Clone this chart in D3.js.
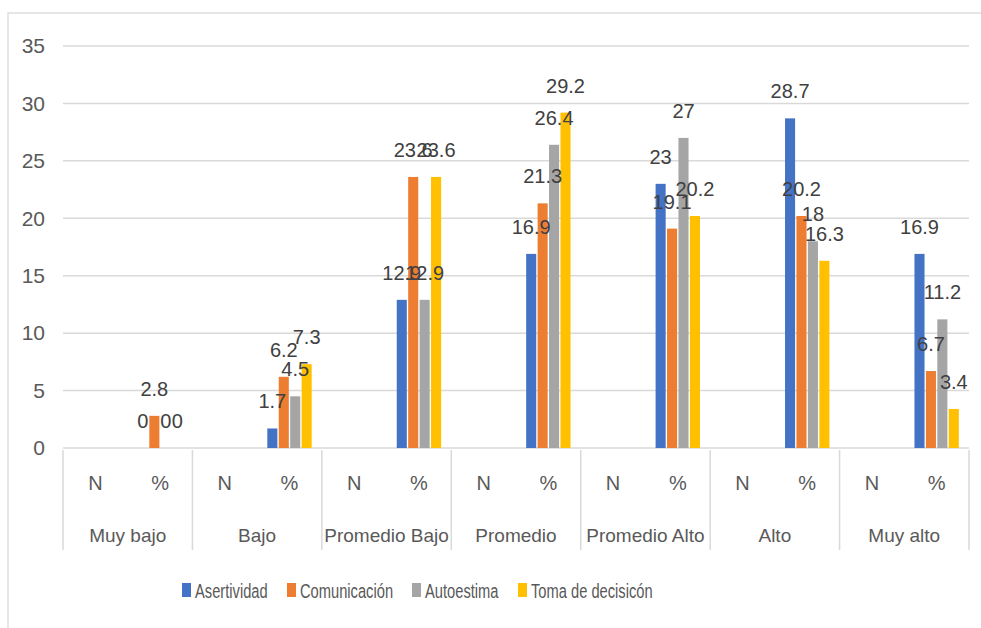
<!doctype html>
<html lang="es">
<head>
  <meta charset="utf-8">
  <title>Niveles por dimensión</title>
  <style>
    body { margin: 0; background: #fff; }
    text { font-family: "Liberation Sans", Arial, sans-serif; fill: #595959; }
  </style>
</head>
<body>
<svg id="mysvg"></svg>
<script src="https://d3js.org/d3.v7.min.js"></script>
<script>
var width = 981;
var height = 628;

// data (N columns are empty)
var groups = ["Muy bajo", "Bajo", "Promedio Bajo", "Promedio", "Promedio Alto", "Alto", "Muy alto"];
var subs = ["N", "%"];
var series = ["Asertividad", "Comunicación", "Autoestima", "Toma de decisicón"];
var colors = ["#4472C4", "#ED7D31", "#A5A5A5", "#FFC000"];
var asertividad  = [0, 1.7, 12.9, 16.9, 23, 28.7, 16.9];
var comunicacion = [2.8, 6.2, 23.6, 21.3, 19.1, 20.2, 6.7];
var autoestima   = [0, 4.5, 12.9, 26.4, 27, 18, 11.2];
var tomaDecision = [0, 7.3, 23.6, 29.2, 20.2, 16.3, 3.4];
var yTicks = [0, 5, 10, 15, 20, 25, 30, 35];

var values = [asertividad, comunicacion, autoestima, tomaDecision];

var svg = d3.select("#mysvg")
  .attr("width", width)
  .attr("height", height);

// chart frame (only top and left visible)
svg.append("rect")
  .attr("x", 8).attr("y", 13)
  .attr("width", 1000).attr("height", 700)
  .style("fill", "none")
  .style("stroke", "#D9D9D9")
  .style("stroke-width", 1.3);

var plotLeft = 63, plotRight = 969, plotTop = 46, base = 448;

var y = d3.scaleLinear().domain([0, 35]).range([base, plotTop]);
var xGroup = d3.scaleBand().domain(groups).range([plotLeft, plotRight]);
var xSub = d3.scaleBand().domain(subs).range([0, xGroup.bandwidth()]);
var xSer = d3.scaleBand().domain(series).range([0, xSub.bandwidth()])
  .paddingInner(0.12).paddingOuter(0.89);

// gridlines + y labels
svg.append("g").selectAll("line").data(yTicks).enter().append("line")
  .attr("x1", plotLeft).attr("x2", plotRight)
  .attr("y1", function(d) { return y(d); })
  .attr("y2", function(d) { return y(d); })
  .style("stroke", "#D9D9D9")
  .style("stroke-width", 1.5);

svg.append("g").selectAll("text").data(yTicks).enter().append("text")
  .attr("x", 45)
  .attr("y", function(d) { return y(d); })
  .attr("dy", "0.35em")
  .attr("text-anchor", "end")
  .style("font-size", "21px")
  .text(function(d) { return d; });

// category axis dividers
svg.append("g").selectAll("line").data(d3.range(groups.length + 1)).enter().append("line")
  .attr("x1", function(i) { return plotLeft + i * xGroup.step(); })
  .attr("x2", function(i) { return plotLeft + i * xGroup.step(); })
  .attr("y1", base + 2).attr("y2", 550)
  .style("stroke", "#D9D9D9")
  .style("stroke-width", 1.5);

var g = svg.append("g").selectAll("g").data(groups).enter().append("g")
  .attr("transform", function(d) { return "translate(" + xGroup(d) + ",0)"; });

g.selectAll("text.sub").data(subs).enter().append("text")
  .attr("class", "sub")
  .attr("x", function(d) { return xSub(d) + xSub.bandwidth() / 2; })
  .attr("y", 483)
  .attr("dy", "0.35em")
  .attr("text-anchor", "middle")
  .style("font-size", "20px")
  .text(function(d) { return d; });

g.append("text")
  .attr("x", xGroup.bandwidth() / 2)
  .attr("y", 535)
  .attr("dy", "0.35em")
  .attr("text-anchor", "middle")
  .style("font-size", "19px")
  .text(function(d) { return d; });

// bars in the % column, labels drawn on top of all bars
var pct = xSub("%");
var cells = [];
groups.forEach(function(grp, gi) {
  series.forEach(function(s, si) {
    cells.push({ grp: grp, ser: s, si: si, v: values[si][gi] });
  });
});
var barX = function(d) { return xGroup(d.grp) + pct + xSer(d.ser); };

svg.append("g").selectAll("rect").data(cells).enter().append("rect")
  .attr("x", barX)
  .attr("y", function(d) { return y(d.v); })
  .attr("width", xSer.bandwidth())
  .attr("height", function(d) { return base - y(d.v); })
  .style("fill", function(d) { return colors[d.si]; });

svg.append("g").selectAll("text").data(cells).enter().append("text")
  .attr("x", function(d) { return barX(d) + xSer.bandwidth() / 2; })
  .attr("y", function(d) { return y(d.v) - 20; })
  .attr("text-anchor", "middle")
  .style("font-size", "20px")
  .style("fill", "#404040")
  .text(function(d) { return d.v; });

// legend
var legX = [182, 287, 412, 518];
var leg = svg.append("g").selectAll("g").data(series).enter().append("g")
  .attr("transform", function(d, i) { return "translate(" + legX[i] + ",583)"; });
leg.append("rect")
  .attr("width", 9).attr("height", 14)
  .style("fill", function(d, i) { return colors[i]; });
leg.append("text")
  .attr("transform", "translate(13,8) scale(0.7,1)")
  .attr("dy", "0.35em")
  .style("font-size", "21px")
  .text(function(d) { return d; });
</script>
</body>
</html>
